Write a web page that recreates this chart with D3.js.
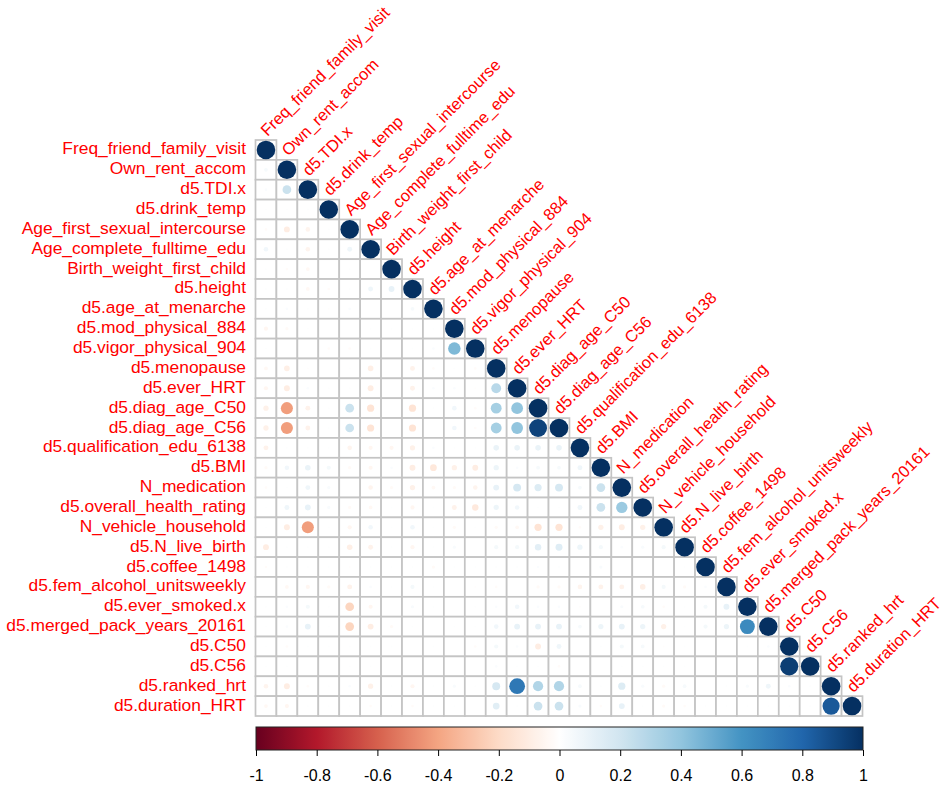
<!DOCTYPE html>
<html>
<head>
<meta charset="utf-8">
<script src="https://cdn.jsdelivr.net/npm/d3@7"></script>
<style>
  html, body { margin: 0; padding: 0; background: #ffffff; }
  svg { display: block; }
  text { font-family: "Liberation Sans", Arial, Helvetica, sans-serif; }
</style>
</head>
<body>
<svg id="chart" width="946" height="789"></svg>
<script>
// Variable names, in matrix order
const variables = [
  "Freq_friend_family_visit", "Own_rent_accom", "d5.TDI.x", "d5.drink_temp",
  "Age_first_sexual_intercourse", "Age_complete_fulltime_edu", "Birth_weight_first_child",
  "d5.height", "d5.age_at_menarche", "d5.mod_physical_884", "d5.vigor_physical_904",
  "d5.menopause", "d5.ever_HRT", "d5.diag_age_C50", "d5.diag_age_C56",
  "d5.qualification_edu_6138", "d5.BMI", "N_medication", "d5.overall_health_rating",
  "N_vehicle_household", "d5.N_live_birth", "d5.coffee_1498", "d5.fem_alcohol_unitsweekly",
  "d5.ever_smoked.x", "d5.merged_pack_years_20161", "d5.C50", "d5.C56",
  "d5.ranked_hrt", "d5.duration_HRT"
];

// Lower triangle of the correlation matrix: row i holds r(i, 0..i-1); the diagonal is 1
const lowerRows = [
  [],
  [0.04],
  [0.02, 0.22],
  [0.01, 0.01, 0.01],
  [-0.02, -0.10, -0.06, 0.01],
  [0.06, 0.01, -0.06, 0.01, 0.07],
  [0.01, -0.02, -0.04, 0, 0.01, 0],
  [0.01, 0.01, -0.04, -0.02, 0.01, 0.07, 0.10],
  [0.01, 0.02, 0.01, -0.01, 0.02, 0, 0, 0.04],
  [-0.05, -0.03, 0.01, 0, 0, 0.01, 0.01, 0.01, 0.01],
  [0.01, 0, 0, -0.02, -0.02, 0.01, 0, 0.01, 0.02, 0.45],
  [-0.04, -0.09, -0.01, 0, 0.01, -0.09, 0, -0.07, -0.02, 0.01, -0.02],
  [-0.05, -0.10, 0.02, 0.01, 0.01, -0.10, 0, -0.07, 0.02, 0.02, -0.01, 0.28],
  [-0.08, -0.42, -0.07, 0.01, 0.22, -0.15, 0, -0.15, 0.01, 0.06, -0.02, 0.34, 0.40],
  [-0.08, -0.42, -0.07, 0.01, 0.22, -0.15, 0, -0.15, 0, 0.06, -0.02, 0.34, 0.40, 0.93],
  [-0.07, 0.01, 0.01, 0.01, -0.06, -0.05, -0.05, -0.08, 0.02, 0.01, 0.01, 0.09, 0.09, 0.09, 0.09],
  [-0.03, 0.06, 0.09, 0.05, -0.03, -0.05, 0.02, -0.10, -0.13, -0.08, -0.10, 0.08, 0.02, 0.04, 0.04, 0.07],
  [-0.02, 0.01, 0.07, 0.03, 0, -0.06, -0.03, -0.08, -0.04, -0.03, -0.06, 0.10, 0.18, 0.15, 0.18, 0.04, 0.22],
  [0.01, 0.07, 0.10, 0.03, -0.03, -0.04, 0.01, -0.05, 0.01, -0.07, -0.12, 0.08, 0.06, 0.01, 0.01, 0.07, 0.22, 0.37],
  [0.01, -0.10, -0.42, 0.01, -0.05, 0.06, 0.01, 0.06, 0.01, -0.03, 0.01, -0.03, -0.04, -0.15, -0.15, -0.02, -0.08, -0.10, -0.08],
  [-0.10, 0.01, 0.01, 0.01, -0.09, -0.07, 0.01, -0.05, 0.01, 0.03, 0, 0.05, 0.05, 0.12, 0.14, 0.08, 0.05, 0.02, 0.03, 0.05],
  [-0.02, 0.01, 0.01, 0.01, -0.01, 0.01, 0.01, 0.01, -0.03, 0.01, 0.01, 0.01, 0.01, 0.02, 0.01, 0, 0.03, 0, 0, 0, 0.01],
  [0, -0.04, -0.05, -0.03, -0.07, 0.02, 0.01, 0.05, 0.01, 0, -0.01, -0.02, 0, -0.03, -0.03, -0.06, -0.07, -0.07, -0.09, 0.05, -0.03, 0.02],
  [0.01, 0.02, 0.05, 0.01, -0.22, -0.05, 0, 0.03, 0.01, 0, 0.01, 0.02, 0.06, 0.02, 0.02, -0.01, 0, 0.03, 0.04, -0.02, 0.01, 0.05, 0.10],
  [0.01, 0.02, 0.10, 0.01, -0.22, -0.10, -0.03, 0.01, 0, 0.01, 0.01, 0.06, 0.10, 0.10, 0.10, 0.04, 0.08, 0.10, 0.08, -0.08, 0.01, 0.05, 0.08, 0.64],
  [0.01, -0.02, 0.01, 0.01, 0.01, 0.01, 0.01, 0, 0.01, 0, -0.02, 0.05, 0.02, -0.10, 0.07, 0, 0.01, 0.05, 0.04, -0.01, 0.01, 0, 0, 0.01, 0.02],
  [0.01, 0.01, 0, 0, 0.01, 0.01, 0, 0, 0, 0, 0, 0.02, 0.01, 0.01, -0.02, 0, 0, 0.01, 0.01, 0.01, 0.01, 0, 0, 0, 0, 0.95],
  [-0.06, -0.10, -0.02, 0.01, 0.02, -0.08, 0.01, -0.05, 0.01, 0.03, 0.01, 0.18, 0.72, 0.30, 0.30, 0.04, 0.01, 0.15, 0.03, -0.03, 0.04, 0, 0.01, 0.03, 0.07, 0.02, 0.01],
  [-0.04, -0.05, 0.01, 0.01, 0.01, -0.02, 0.01, -0.02, 0.01, 0.01, 0, 0.13, 0.01, 0.22, 0.22, 0.03, -0.02, 0.10, 0.01, -0.03, -0.02, 0.01, 0.01, 0.01, 0.01, 0.01, 0.01, 0.85]
];

// Diverging palette stops (dark red -> white -> dark blue)
const paletteStops = ["#67001F", "#B2182B", "#D6604D", "#F4A582", "#FDDBC7", "#FFFFFF",
                      "#D1E5F0", "#92C5DE", "#4393C3", "#2166AC", "#053061"];

// Colour-key tick values and labels
const keyTicks = [-1, -0.8, -0.6, -0.4, -0.2, 0, 0.2, 0.4, 0.6, 0.8, 1];
const keyTickLabels = ["-1", "-0.8", "-0.6", "-0.4", "-0.2", "0", "0.2", "0.4", "0.6", "0.8", "1"];

const svg = d3.select("#chart");

// Cell grid
const x = d3.scaleBand().domain(variables).range([255.5, 862.5]).padding(0);
const y = d3.scaleBand().domain(variables).range([140, 716]).padding(0);

const color = d3.scaleLinear()
  .domain(d3.range(paletteStops.length).map(i => -1 + i * 2 / (paletteStops.length - 1)))
  .range(paletteStops)
  .interpolate(d3.interpolateRgb);

const radius = d3.scaleSqrt().domain([0, 1]).range([0, 9.3]);

// Flatten lower triangle (plus diagonal) into cells
const cells = [];
variables.forEach((rowVar, i) => {
  for (let j = 0; j <= i; j++) {
    const value = j === i ? 1 : lowerRows[i][j];
    cells.push({ row: rowVar, col: variables[j], value });
  }
});

// Cell borders
svg.append("g")
  .selectAll("rect")
  .data(cells)
  .join("rect")
  .attr("x", d => x(d.col))
  .attr("y", d => y(d.row))
  .attr("width", x.bandwidth())
  .attr("height", y.bandwidth())
  .attr("fill", "#ffffff")
  .attr("stroke", "#c4c4c4")
  .attr("stroke-width", 1.7);

// Correlation circles
svg.append("g")
  .selectAll("circle")
  .data(cells.filter(d => d.value !== 0))
  .join("circle")
  .attr("cx", d => x(d.col) + x.bandwidth() / 2)
  .attr("cy", d => y(d.row) + y.bandwidth() / 2)
  .attr("r", d => radius(Math.abs(d.value)))
  .attr("fill", d => color(d.value));

// Row labels on the left
svg.append("g")
  .selectAll("text")
  .data(variables)
  .join("text")
  .attr("x", 246)
  .attr("y", d => y(d) + y.bandwidth() / 2 + 4.5)
  .attr("text-anchor", "end")
  .attr("font-size", 17.4)
  .attr("fill", "#ff0000")
  .text(d => d);

// Column labels along the diagonal, rotated
svg.append("g")
  .selectAll("text")
  .data(variables)
  .join("text")
  .attr("transform", d => `translate(${x(d) + x.bandwidth() / 2 + 1.5},${y(d) - 3}) rotate(-45)`)
  .attr("text-anchor", "start")
  .attr("font-size", 16.5)
  .attr("fill", "#ff0000")
  .text(d => d);

// Colour key
const keyX = d3.scaleLinear().domain([-1, 1]).range([256, 863]);
const keyTop = 727, keyHeight = 23;

const defs = svg.append("defs");
const grad = defs.append("linearGradient").attr("id", "keyGradient")
  .attr("x1", "0%").attr("x2", "100%").attr("y1", "0%").attr("y2", "0%");
d3.range(0, 1.0001, 0.01).forEach(t => {
  grad.append("stop")
    .attr("offset", `${t * 100}%`)
    .attr("stop-color", color(-1 + 2 * t));
});

svg.append("rect")
  .attr("x", keyX(-1))
  .attr("y", keyTop)
  .attr("width", keyX(1) - keyX(-1))
  .attr("height", keyHeight)
  .attr("fill", "url(#keyGradient)")
  .attr("stroke", "#222222")
  .attr("stroke-width", 1);

const keyAxis = d3.axisBottom(keyX)
  .tickValues(keyTicks)
  .tickSize(6)
  .tickPadding(14)
  .tickFormat((d, i) => keyTickLabels[i]);

const axisG = svg.append("g")
  .attr("transform", `translate(0,${keyTop + keyHeight})`)
  .call(keyAxis);
axisG.select(".domain").remove();
axisG.selectAll(".tick line").attr("stroke", "#000000");
axisG.selectAll(".tick text")
  .attr("font-family", "Liberation Sans, Arial, sans-serif")
  .attr("font-size", 16)
  .attr("fill", "#000000");
</script>
</body>
</html>
